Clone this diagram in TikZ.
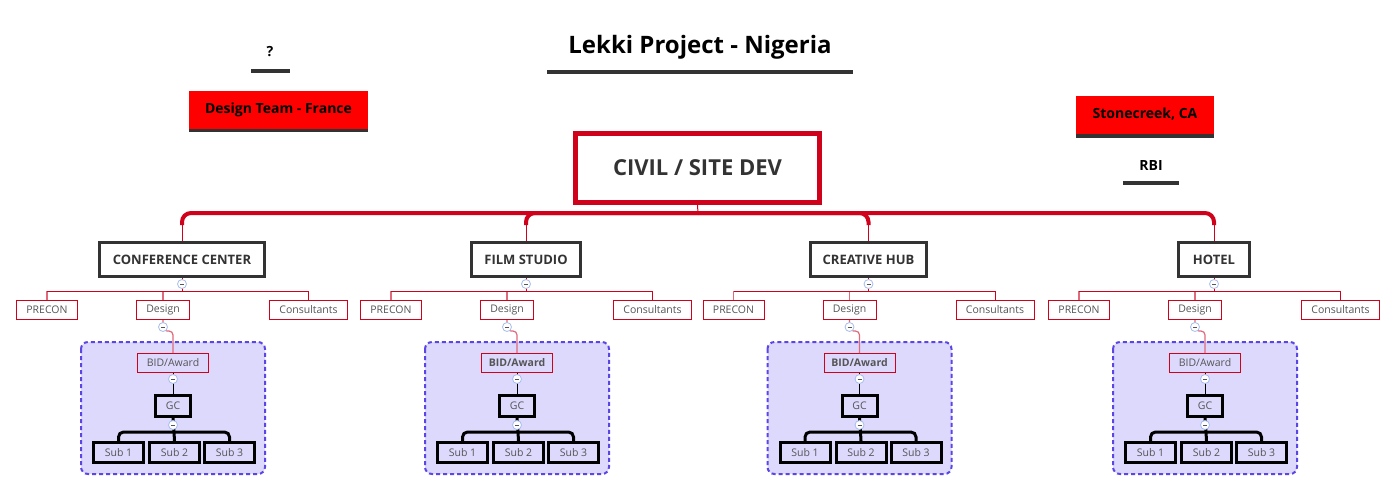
\documentclass[tikz,border=0pt]{standalone}
\usepackage{fontspec}
\setmainfont{Open Sans}
\usetikzlibrary{calc}
\definecolor{crim}{HTML}{D0021B}
\definecolor{pinkline}{HTML}{E06A7C}
\definecolor{dark}{HTML}{333333}
\definecolor{txt}{HTML}{555555}
\definecolor{lav}{HTML}{DCD9FD}
\definecolor{dashblue}{HTML}{5A46E6}
\definecolor{cbl}{HTML}{A8BEEA}
\tikzset{
  titletext/.style={font=\fontsize{24}{28}\selectfont\bfseries, text=black, inner sep=0},
  labeltext/.style={font=\fontsize{14}{16}\selectfont\bfseries, text=black, inner sep=0},
  uline/.style={draw=dark, line width=4pt},
  tagbox/.style={fill=red, minimum height=38, inner sep=0, font=\fontsize{14}{16}\selectfont\bfseries, text=black},
  civilbox/.style={draw=crim, line width=5pt, minimum width=244, minimum height=69, inner sep=0, font=\fontsize{22}{26}\selectfont\bfseries, text=dark},
  parentbox/.style={draw=dark, line width=3pt, minimum height=34, inner sep=0, font=\fontsize{13}{15}\selectfont\bfseries, text=dark},
  leafbox/.style={draw=crim, line width=1pt, minimum height=19, inner sep=0, font=\fontsize{10.5}{12}\selectfont, text=txt},
  gcbox/.style={draw=black, line width=3pt, inner sep=0, font=\fontsize{10.5}{12}\selectfont, text=txt},
  ctl/.style={circle, draw=cbl, fill=white, minimum size=9, inner sep=0, line width=0.8pt,
    path picture={\draw[txt, line width=0.7pt] ([xshift=-2pt]path picture bounding box.center) -- ([xshift=2pt]path picture bounding box.center);}},
  bus/.style={draw=crim, line width=4pt, rounded corners=9},
  dashbox/.style={draw=dashblue, fill=lav, line width=2pt, dash pattern=on 4pt off 3pt, rounded corners=7},
}
\begin{document}
\begin{tikzpicture}[x=1pt,y=-1pt]
\useasboundingbox[fill=white] (0,0) rectangle (1396,491);

% header
\node[titletext] (title) at (700,47) {Lekki Project - Nigeria};
\draw[uline] (547,72) -- (853,72);
\node[labeltext] (q) at (270,52) {?};
\draw[uline] (251,71) -- (290,71);
\node[tagbox, minimum width=179] (dt) at (278.5,109.5) {Design Team - France};
\draw[dark, line width=3.5pt] ([yshift=-1.75pt]dt.south west) -- ([yshift=-1.75pt]dt.south east);
\node[tagbox, minimum width=138] (sc) at (1145,114.5) {Stonecreek, CA};
\draw[dark, line width=4pt] ([yshift=-2pt]sc.south west) -- ([yshift=-2pt]sc.south east);
\node[labeltext] (rbi) at (1151,165) {RBI};
\draw[uline] (1123,183) -- (1179,183);

% root
\node[civilbox] (civil) at (697.5,168) {CIVIL / SITE DEV};
\coordinate (busc) at (698,213);
\draw[crim, line width=1pt] (civil.south) -- (busc);

\foreach \g/\px/\w/\lab/\bidf in {1/182/165/CONFERENCE CENTER/\mdseries, 2/526/109/FILM STUDIO/\bfseries, 3/868.5/116/CREATIVE HUB/\bfseries, 4/1214/71/HOTEL/\mdseries}{
  \node[parentbox, minimum width=\w] (p\g) at (\px,259.5) {\lab};
  \coordinate (drop\g) at (\px,225);
  \draw[bus] (busc) -| (drop\g);
  \draw[crim, line width=1pt] (drop\g) -- (p\g.north);
  % second level
  \node[leafbox, minimum width=61] (pre\g) at (\px-135,310) {PRECON};
  \node[leafbox, minimum width=53] (des\g) at (\px-19,310) {Design};
  \node[leafbox, minimum width=78] (con\g) at (\px+126.5,310) {Consultants};
  \coordinate (hl\g) at (\px,291);
  \draw[pinkline, line width=1.2pt] (pre\g.north |- hl\g) -- (pre\g.north);
  \draw[pinkline, line width=1.2pt] (des\g.north |- hl\g) -- (des\g.north);
  \draw[crim, line width=1pt] (con\g.north |- hl\g) -- (con\g.north);
  \draw[crim, line width=1pt] (pre\g.north |- hl\g) -- (con\g.north |- hl\g);
  \draw[crim, line width=1pt] (p\g.south) -- (hl\g);
  \node[ctl] (cp\g) at (\px,284) {};
  % container
  \draw[dashbox] (\px-101,342) rectangle (\px+83,474);
  \node[leafbox, minimum width=71, font=\fontsize{10.5}{12}\selectfont\bidf] (bid\g) at (\px-9,363) {BID/Award};
  \coordinate (dj\g) at (\px-19,331);
  \draw[pinkline, line width=1.2pt, rounded corners=4] (des\g.south) -- (dj\g) -| (bid\g.north);
  \node[ctl] (cd\g) at (\px-19,327) {};
  \node[gcbox, minimum width=35, minimum height=21] (gc\g) at (\px-9,406) {GC};
  \draw[black, line width=1pt] (bid\g.south) -- (gc\g.north);
  \node[ctl] (cb\g) at (\px-9,379) {};
  \node[gcbox, minimum width=50, minimum height=20] (sa\g) at (\px-63.5,452.5) {Sub 1};
  \node[gcbox, minimum width=50, minimum height=20] (sb\g) at (\px-7.5,452.5) {Sub 2};
  \node[gcbox, minimum width=50, minimum height=20] (sd\g) at (\px+47.5,452.5) {Sub 3};
  \coordinate (sbus\g) at (\px-8,432);
  \draw[black, line width=3pt] (gc\g.south) -- (sbus\g) -- (sb\g.north);
  \draw[black, line width=3pt, rounded corners=5] (sbus\g) -| (sa\g.north);
  \draw[black, line width=3pt, rounded corners=5] (sbus\g) -| (sd\g.north);
  \node[ctl] (cg\g) at (\px-9,425) {};
}
\end{tikzpicture}
\end{document}
